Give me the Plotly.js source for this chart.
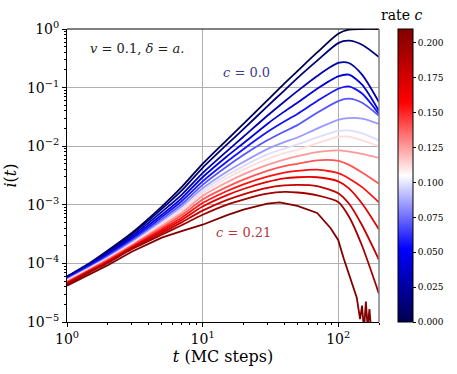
<!DOCTYPE html>
<html>
<head>
<meta charset="utf-8">
<script src="https://cdn.plot.ly/plotly-3.0.1.min.js"></script>
<style>
  html, body { margin: 0; padding: 0; background: #fff; }
  #plot { width: 457px; height: 374px; }
</style>
</head>
<body>
<div id="plot"></div>
<script>
// time axis (MC steps) shared by most curves
var tSteps = [1, 1.5, 2, 3, 5, 7, 10, 15, 20, 30, 40, 50, 70, 100, 120, 150, 200];

// rate c of each curve
var rates = [0, 0.014, 0.028, 0.042, 0.056, 0.07, 0.084, 0.098, 0.112, 0.126, 0.14, 0.154, 0.168, 0.182, 0.196, 0.21];

// i(t), one array per rate
var i_c000 = [6.0e-5, 1.05e-4, 1.66e-4, 3.31e-4, 9.33e-4, 2.0e-3, 5.01e-3, 1.26e-2, 2.40e-2, 6.03e-2, 0.117, 0.191, 0.398, 0.832, 0.977, 1.0, 1.0];
var i_c014 = [5.9e-5, 1.02e-4, 1.58e-4, 3.09e-4, 8.5e-4, 1.74e-3, 4.27e-3, 1.05e-2, 1.95e-2, 4.79e-2, 8.9e-2, 0.145, 0.288, 0.575, 0.631, 0.537, 0.331];
var i_c028 = [5.75e-5, 1.0e-4, 1.51e-4, 2.88e-4, 7.59e-4, 1.48e-3, 3.47e-3, 8.1e-3, 1.45e-2, 3.31e-2, 5.75e-2, 8.7e-2, 0.158, 0.263, 0.263, 0.166, 5.62e-2];
var i_c042 = [5.62e-5, 9.55e-5, 1.45e-4, 2.69e-4, 6.76e-4, 1.29e-3, 2.95e-3, 6.61e-3, 1.12e-2, 2.40e-2, 3.89e-2, 5.5e-2, 9.55e-2, 0.155, 0.166, 0.112, 3.98e-2];
var i_c056 = [5.5e-5, 9.3e-5, 1.38e-4, 2.51e-4, 6.17e-4, 1.15e-3, 2.51e-3, 5.37e-3, 8.9e-3, 1.74e-2, 2.63e-2, 3.55e-2, 5.89e-2, 9.55e-2, 0.105, 7.94e-2, 3.55e-2];
var i_c070 = [5.37e-5, 8.9e-5, 1.32e-4, 2.40e-4, 5.62e-4, 1.02e-3, 2.19e-3, 4.47e-3, 7.08e-3, 1.26e-2, 1.78e-2, 2.29e-2, 3.72e-2, 5.89e-2, 6.46e-2, 5.5e-2, 3.31e-2];
var i_c084 = [5.25e-5, 8.7e-5, 1.26e-4, 2.29e-4, 5.25e-4, 9.33e-4, 1.91e-3, 3.63e-3, 5.37e-3, 8.9e-3, 1.17e-2, 1.41e-2, 2.0e-2, 2.82e-2, 3.02e-2, 2.95e-2, 2.40e-2];
var i_c098 = [5.13e-5, 8.5e-5, 1.23e-4, 2.19e-4, 4.9e-4, 8.5e-4, 1.74e-3, 3.16e-3, 4.57e-3, 7.24e-3, 9.12e-3, 1.07e-2, 1.41e-2, 1.82e-2, 1.86e-2, 1.66e-2, 1.26e-2];
var i_c112 = [5.01e-5, 8.3e-5, 1.20e-4, 2.14e-4, 4.68e-4, 7.94e-4, 1.58e-3, 2.82e-3, 3.98e-3, 6.03e-3, 7.59e-3, 8.7e-3, 1.12e-2, 1.45e-2, 1.45e-2, 1.26e-2, 1.0e-2];
var i_c126 = [4.9e-5, 8.1e-5, 1.17e-4, 2.04e-4, 4.37e-4, 7.24e-4, 1.41e-3, 2.40e-3, 3.31e-3, 4.79e-3, 5.89e-3, 6.76e-3, 7.94e-3, 8.5e-3, 8.1e-3, 7.41e-3, 6.31e-3];
var i_c140 = [4.79e-5, 7.94e-5, 1.15e-4, 2.0e-4, 4.07e-4, 6.61e-4, 1.23e-3, 2.0e-3, 2.69e-3, 3.80e-3, 4.57e-3, 5.01e-3, 5.75e-3, 5.62e-3, 4.79e-3, 3.55e-3, 2.29e-3];
var i_c154 = [4.68e-5, 7.76e-5, 1.10e-4, 1.91e-4, 3.80e-4, 6.03e-4, 1.07e-3, 1.70e-3, 2.24e-3, 3.02e-3, 3.55e-3, 3.80e-3, 3.98e-3, 3.47e-3, 2.82e-3, 2.0e-3, 1.10e-3];
var i_c168 = [4.57e-5, 7.59e-5, 1.07e-4, 1.86e-4, 3.55e-4, 5.5e-4, 9.33e-4, 1.45e-3, 1.86e-3, 2.45e-3, 2.82e-3, 2.95e-3, 2.95e-3, 2.51e-3, 1.91e-3, 1.05e-3, 3.80e-4];
var i_c182 = [4.47e-5, 7.41e-5, 1.05e-4, 1.82e-4, 3.31e-4, 5.01e-4, 7.94e-4, 1.20e-3, 1.51e-3, 1.95e-3, 2.14e-3, 2.19e-3, 2.09e-3, 1.58e-3, 1.05e-3, 4.47e-4, 1.15e-4];
var i_c196 = [4.37e-5, 7.24e-5, 1.02e-4, 1.74e-4, 3.09e-4, 4.47e-4, 6.76e-4, 1.0e-3, 1.23e-3, 1.55e-3, 1.66e-3, 1.62e-3, 1.45e-3, 1.12e-3, 6.31e-4, 2.0e-4, 3.02e-5];

// the c = 0.21 curve dies out noisily, so it has its own time points
var tDarkest = [1, 1.5, 2, 3, 5, 7, 10, 15, 20, 30, 37, 50, 70, 88, 100, 110, 125, 137, 145, 150, 155, 160, 165, 170, 176];
var i_c210 = [4.17e-5, 6.76e-5, 9.33e-5, 1.58e-4, 2.75e-4, 3.55e-4, 4.57e-4, 6.61e-4, 8.3e-4, 1.05e-3, 1.10e-3, 9.55e-4, 7.24e-4, 3.98e-4, 2.51e-4, 1.20e-4, 5.01e-5, 2.63e-5, 1.12e-5, 1.91e-5, 7.08e-6, 2.24e-5, 7.94e-6, 1.66e-5, 6.3e-6];

var cbTicks = [0, 0.025, 0.05, 0.075, 0.1, 0.125, 0.15, 0.175, 0.2];

var series = [i_c000, i_c014, i_c028, i_c042, i_c056, i_c070, i_c084, i_c098,
              i_c112, i_c126, i_c140, i_c154, i_c168, i_c182, i_c196, i_c210];

var cMax = 0.21;
var serif = "'DejaVu Serif', serif";

// matplotlib "seismic"
var seismicStops = [[0, [0, 0, 76.5]], [0.25, [0, 0, 255]], [0.5, [255, 255, 255]],
                    [0.75, [255, 0, 0]], [1, [127.5, 0, 0]]];

function seismic(f) {
    for (var s = 1; s < seismicStops.length; s++) {
        var a = seismicStops[s - 1], b = seismicStops[s];
        if (f <= b[0]) {
            var u = (f - a[0]) / (b[0] - a[0]);
            var rgb = a[1].map(function(v, j) { return Math.round(v + (b[1][j] - v) * u); });
            return 'rgb(' + rgb.join(',') + ')';
        }
    }
    return 'rgb(128,0,0)';
}

var colorscale = seismicStops.map(function(s) { return [s[0], seismic(s[0])]; });

var traces = [];
for (var k = 0; k < series.length; k++) {
    var last = (k === series.length - 1);
    traces.push({
        x: last ? tDarkest : tSteps,
        y: series[k],
        type: 'scatter',
        mode: 'lines',
        line: { color: seismic(rates[k] / cMax), width: 1.8,
                shape: last ? 'linear' : 'spline', smoothing: 0.7 },
        hoverinfo: 'skip',
        showlegend: false
    });
}

// invisible trace that carries the colour bar
traces.push({
    x: [1, 1], y: [1e-9, 1e-9],
    type: 'scatter', mode: 'markers',
    marker: {
        size: 1, opacity: 0,
        color: [0, cMax], cmin: 0, cmax: cMax,
        colorscale: colorscale,
        showscale: true,
        colorbar: {
            x: 1.0603, xanchor: 'left', y: 0, yanchor: 'bottom',
            len: 1, lenmode: 'fraction',
            thickness: 15, thicknessmode: 'pixels',
            xpad: 0, ypad: 0,
            outlinewidth: 1, outlinecolor: '#000',
            tickmode: 'array', tickvals: cbTicks,
            ticktext: cbTicks.map(function(v) { return v.toFixed(3); }),
            ticks: 'outside', ticklen: 3, tickcolor: '#000',
            tickfont: { family: serif, size: 9, color: '#000' }
        }
    },
    hoverinfo: 'skip',
    showlegend: false
});

var xMinor = [], yMinor = [];
for (var d = 0; d < 3; d++) {
    for (var m = 2; m <= 9; m++) xMinor.push(m * Math.pow(10, d));
}
for (var e = -5; e < 0; e++) {
    for (var m2 = 2; m2 <= 9; m2++) yMinor.push(m2 * Math.pow(10, e));
}

function note(x, y, text, size, color) {
    return { xref: 'paper', yref: 'paper', x: x, y: y, xanchor: 'center', yanchor: 'middle',
             showarrow: false, text: text, font: { family: serif, size: size, color: color } };
}

var layout = {
    width: 457, height: 374,
    margin: { l: 67, r: 75, t: 29, b: 52 },
    paper_bgcolor: '#fff', plot_bgcolor: '#fff',
    font: { family: serif, color: '#000' },
    xaxis: {
        type: 'log', range: [0, Math.log10(200)],
        tickmode: 'array', tickvals: [1, 10, 100],
        ticktext: ['10<sup>0</sup>', '10<sup>1</sup>', '10<sup>2</sup>'],
        ticks: 'outside', ticklen: 4, tickcolor: '#000',
        tickfont: { family: serif, size: 14, color: '#000' },
        showline: true, linecolor: '#000', linewidth: 1,
        showgrid: true, gridcolor: '#b0b0b0', gridwidth: 1, zeroline: false,
        minor: { tickmode: 'array', tickvals: xMinor, ticks: 'outside', ticklen: 2,
                 tickcolor: '#000', showgrid: false },
        title: { text: '<i>t</i> (MC steps)', font: { family: serif, size: 16, color: '#000' }, standoff: 4 }
    },
    yaxis: {
        type: 'log', range: [-5, 0],
        tickmode: 'array', tickvals: [1e-5, 1e-4, 1e-3, 1e-2, 1e-1, 1],
        ticktext: ['10<sup>\u22125</sup>', '10<sup>\u22124</sup>', '10<sup>\u22123</sup>',
                   '10<sup>\u22122</sup>', '10<sup>\u22121</sup>', '10<sup>0</sup>'],
        ticks: 'outside', ticklen: 4, tickcolor: '#000',
        tickfont: { family: serif, size: 14, color: '#000' },
        showline: true, linecolor: '#000', linewidth: 1,
        showgrid: true, gridcolor: '#b0b0b0', gridwidth: 1, zeroline: false,
        minor: { tickmode: 'array', tickvals: yMinor, ticks: 'outside', ticklen: 2,
                 tickcolor: '#000', showgrid: false },
        title: { text: '<i>i</i>(<i>t</i>)', font: { family: serif, size: 16, color: '#000' }, standoff: 6 }
    },
    shapes: [
        { type: 'line', xref: 'paper', yref: 'paper', x0: 0, x1: 1, y0: 1, y1: 1,
          line: { color: '#000', width: 1 } },
        { type: 'line', xref: 'paper', yref: 'paper', x0: 1, x1: 1, y0: 0, y1: 1,
          line: { color: '#808080', width: 1.5 } }
    ],
    annotations: [
        note(0.225, 0.935, '<i>v</i> = 0.1, <i>\u03b4</i> = <i>a</i>.', 13, '#222'),
        note(0.575, 0.853, '<i>c</i> = 0.0', 13, '#3c3c8c'),
        note(0.565, 0.307, '<i>c</i> = 0.21', 13, '#b03a3a'),
        note(1.073, 1.048, 'rate <i>c</i>', 14, '#000')
    ]
};

Plotly.newPlot('plot', traces, layout, { displayModeBar: false, staticPlot: true });
</script>
</body>
</html>
